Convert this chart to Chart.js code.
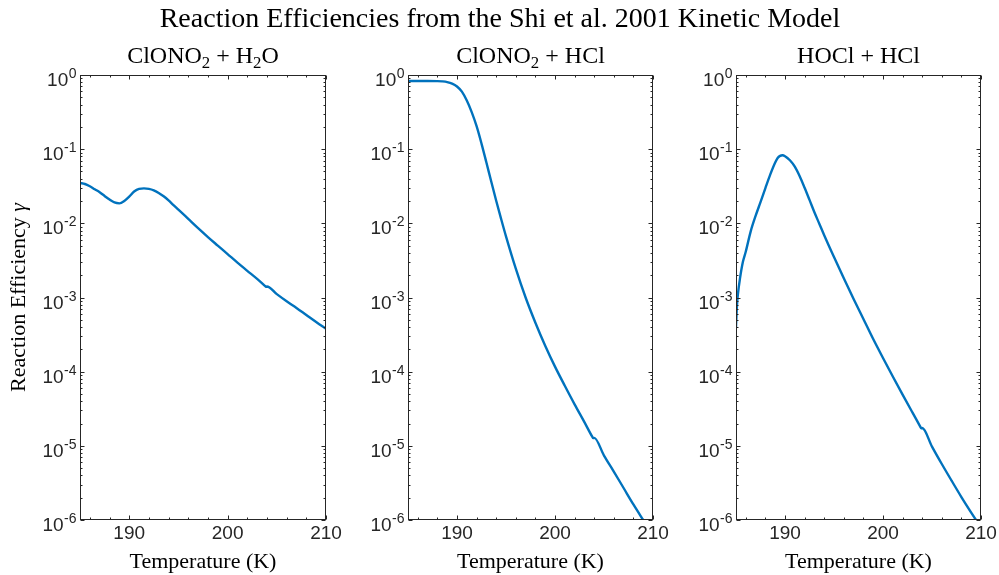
<!DOCTYPE html>
<html>
<head>
<meta charset="utf-8">
<script src="https://cdn.jsdelivr.net/npm/chart.js@4"></script>
<style>
html, body { margin: 0; padding: 0; background: #fff; }
#wrap { position: relative; width: 999px; height: 575px; }
#wrap canvas { position: absolute; left: 0; top: 0; }
</style>
</head>
<body>
<div id="wrap">
  <canvas id="c1" width="999" height="575"></canvas>
  <canvas id="c2" width="999" height="575"></canvas>
  <canvas id="c3" width="999" height="575"></canvas>
</div>
<script>
// data (temperature in K, reaction efficiency gamma)
var temps1 = [185,185.5,186,186.5,187,187.5,188,188.5,189,189.5,190,190.5,191,191.5,192,192.5,193,193.5,194,194.5,195,196,197,198,199,200,201,202,203,203.8,203.9,204,205,206,207,208,209,210]
var gamma1 = [0.035,0.0339,0.0316,0.0288,0.0263,0.0234,0.0209,0.0191,0.0186,0.0200,0.0229,0.0269,0.0292,0.0296,0.0292,0.0279,0.0257,0.0232,0.0204,0.0176,0.0153,0.01148,0.00861,0.00653,0.00501,0.00385,0.00295,0.00229,0.00178,0.00143,0.00139,0.00141,0.00111,0.00089,0.000724,0.000582,0.000468,0.00038]

var temps2 = [185,186,187,188,188.5,189,189.5,190,190.5,191,191.5,192,192.5,193,193.5,194,194.5,195,196,197,198,199,200,201,202,203,203.8,203.9,204,205,206,207,208,209,210]
var gamma2 = [0.83,0.83,0.83,0.828,0.820,0.803,0.767,0.700,0.596,0.452,0.316,0.204,0.119,0.066,0.0363,0.0202,0.0115,0.00668,0.00245,0.0010,4.57e-4,2.24e-4,1.17e-4,6.46e-5,3.63e-5,2.09e-5,1.33e-5,1.27e-5,1.28e-5,7.4e-6,4.5e-6,2.7e-6,1.62e-6,1.0e-6,6.2e-7]

var temps3 = [185,185.1,185.2,185.4,185.7,186,186.5,187,187.5,188,188.5,189,189.25,189.5,189.75,190,190.5,191,191.5,192,192.5,193,193.5,194,195,196,197,198,199,200,201,202,203,203.8,203.9,204,205,206,207,208,209,210]
var gamma3 = [4.0e-4,7.9e-4,1.12e-3,1.78e-3,3.0e-3,4.17e-3,7.8e-3,0.0126,0.0193,0.0299,0.0457,0.0661,0.0759,0.0813,0.0826,0.0804,0.0708,0.0582,0.0432,0.0302,0.0207,0.0141,0.00989,0.00692,0.00351,0.00182,9.55e-4,5.13e-4,2.75e-4,1.53e-4,8.61e-5,4.9e-5,2.82e-5,1.82e-5,1.72e-5,1.74e-5,9.77e-6,5.69e-6,3.39e-6,2.04e-6,1.26e-6,7.9e-7]

var xMajor = [190, 200, 210]
var xMinor = [186,188,192,194,196,198,202,204,206,208]
var yExponents = [-6,-5,-4,-3,-2,-1,0]

var mainTitle = "Reaction Efficiencies from the Shi et al. 2001 Kinetic Model"
var yLabel = "Reaction Efficiency "
var xLabel = "Temperature (K)"

const SERIF = '"Liberation Serif", "Times New Roman", serif'
const SANS = '"Liberation Sans", Arial, Helvetica, sans-serif'
const AXIS = '#262626'

// draws text with subscript parts, centered on cx
function drawRich(ctx, parts, cx, base, size){
    var total = 0
    parts.forEach(function(p){
        ctx.font = (p[1] ? size*0.7 : size) + 'px ' + SERIF
        total += ctx.measureText(p[0]).width
    })
    var x = cx - total/2
    ctx.textAlign = 'left'
    parts.forEach(function(p){
        ctx.font = (p[1] ? size*0.7 : size) + 'px ' + SERIF
        ctx.fillText(p[0], x, p[1] ? base + size*0.22 : base)
        x += ctx.measureText(p[0]).width
    })
}

function makeDecor(panel){
    return {
        id: 'decor',
        afterDraw: function(chart){
            var ctx = chart.ctx, a = chart.chartArea
            var xs = chart.scales.x, ys = chart.scales.y
            var L = Math.round(a.left)+0.5, R = Math.round(a.right)-0.5
            var T = Math.round(a.top)+0.5, B = Math.round(a.bottom)-0.5
            ctx.save()
            ctx.strokeStyle = AXIS
            ctx.lineWidth = 1
            ctx.strokeRect(L, T, R-L, B-T)
            ctx.beginPath()
            function xt(v, len){
                var x = Math.round(xs.getPixelForValue(v))+0.5
                ctx.moveTo(x, B); ctx.lineTo(x, B-len)
                ctx.moveTo(x, T); ctx.lineTo(x, T+len)
            }
            function yt(v, len){
                var y = Math.round(ys.getPixelForValue(v))+0.5
                ctx.moveTo(L, y); ctx.lineTo(L+len, y)
                ctx.moveTo(R, y); ctx.lineTo(R-len, y)
            }
            xMajor.forEach(function(v){ xt(v, 4) })
            xMinor.forEach(function(v){ xt(v, 2) })
            yExponents.forEach(function(e){
                yt(Math.pow(10, e), 4)
                if (e < 0) for (var k = 2; k <= 9; k++) yt(k*Math.pow(10, e), 2)
            })
            ctx.stroke()

            ctx.fillStyle = AXIS
            // x tick labels
            ctx.font = '19px ' + SANS
            ctx.textAlign = 'center'
            ctx.textBaseline = 'alphabetic'
            xMajor.forEach(function(v){
                ctx.fillText(String(v), xs.getPixelForValue(v), B + 19)
            })
            // y tick labels 10^e
            yExponents.forEach(function(e){
                var y = ys.getPixelForValue(Math.pow(10, e))
                ctx.font = '14px ' + SANS
                var ex = String(e)
                var we = ctx.measureText(ex).width
                ctx.textAlign = 'left'
                ctx.fillText(ex, L - 4 - we, y + 3)
                ctx.font = '19px ' + SANS
                ctx.textAlign = 'right'
                ctx.fillText('10', L - 4 - we - 0.5, y + 11)
            })

            ctx.fillStyle = '#000'
            var cx = (a.left + a.right)/2
            drawRich(ctx, panel.title, cx, 63, 24)
            ctx.font = '22px ' + SERIF
            ctx.textAlign = 'center'
            ctx.fillText(xLabel, cx, 568)

            if (panel.yLabel){
                ctx.save()
                ctx.translate(25, (a.top + a.bottom)/2)
                ctx.rotate(-Math.PI/2)
                ctx.font = '22px ' + SERIF
                var w1 = ctx.measureText(yLabel).width
                ctx.font = 'italic 22px ' + SERIF
                var w2 = ctx.measureText('γ').width
                ctx.textAlign = 'left'
                ctx.font = '22px ' + SERIF
                ctx.fillText(yLabel, -(w1+w2)/2, 0)
                ctx.font = 'italic 22px ' + SERIF
                ctx.fillText('γ', -(w1+w2)/2 + w1, 0)
                ctx.restore()
            }
            if (panel.mainTitle){
                ctx.font = '28px ' + SERIF
                ctx.textAlign = 'center'
                ctx.fillText(mainTitle, 500, 27)
            }
            ctx.restore()
        }
    }
}

var panels = [
    {id: 'c1', temps: temps1, gamma: gamma1, left: 80, right: 673,
     title: [['ClONO'],['2',1],[' + H'],['2',1],['O']], yLabel: true},
    {id: 'c2', temps: temps2, gamma: gamma2, left: 408, right: 346,
     title: [['ClONO'],['2',1],[' + HCl']], mainTitle: true},
    {id: 'c3', temps: temps3, gamma: gamma3, left: 736, right: 18,
     title: [['HOCl + HCl']]}
]

function crearGraficos(){
    panels.forEach(function(p){
        var g = document.getElementById(p.id).getContext('2d')
        new Chart(g, {
            type: 'line',
            data: {
                datasets: [{
                    data: p.temps.map(function(t, i){ return {x: t, y: p.gamma[i]} }),
                    borderColor: '#0072BD',
                    borderWidth: 2.4,
                    pointRadius: 0,
                    cubicInterpolationMode: 'monotone',
                    fill: false
                }]
            },
            options: {
                responsive: false,
                maintainAspectRatio: false,
                animation: false,
                events: [],
                layout: { padding: { left: p.left, right: p.right, top: 75, bottom: 55 } },
                scales: {
                    x: { type: 'linear', min: 185, max: 210, display: false },
                    y: { type: 'logarithmic', min: 1e-6, max: 1, display: false }
                },
                plugins: { legend: { display: false }, tooltip: { enabled: false } }
            },
            plugins: [makeDecor(p)]
        })
    })
}
document.addEventListener('DOMContentLoaded', crearGraficos)
</script>
</body>
</html>
